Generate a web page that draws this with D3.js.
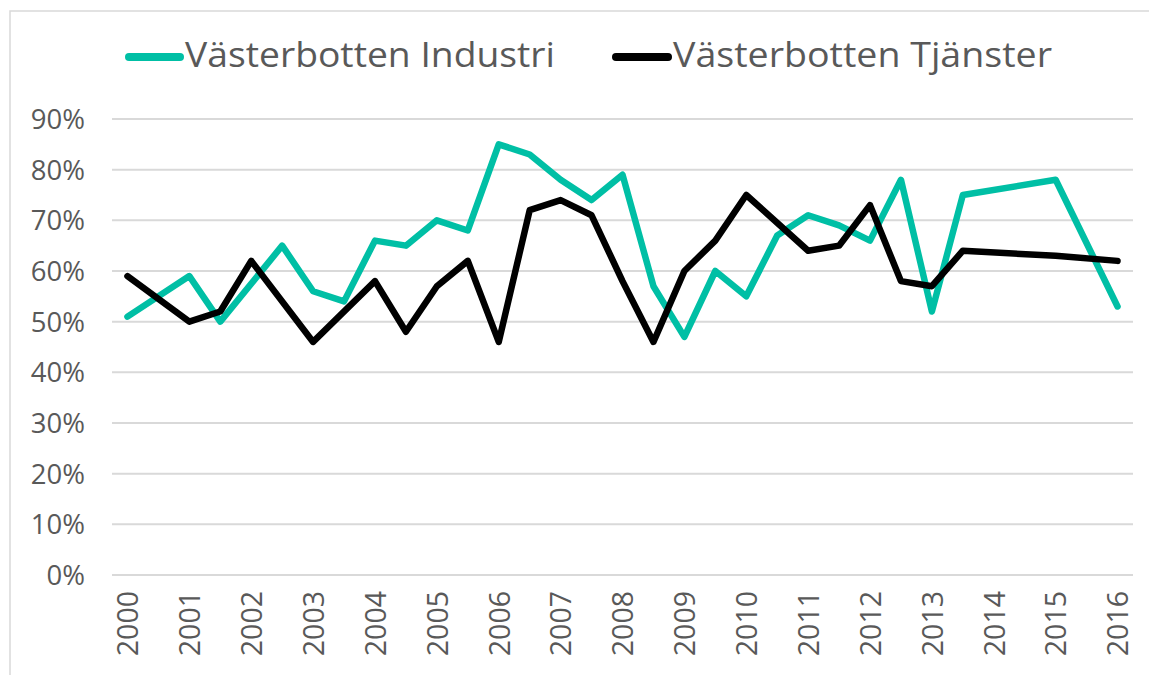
<!DOCTYPE html>
<html>
<head>
<meta charset="utf-8">
<script src="https://cdn.jsdelivr.net/npm/d3@7"></script>
<style>
  html, body { margin: 0; padding: 0; background: #fff; }
  svg { display: block; }
  text { font-family: "Open Sans", "Noto Sans", sans-serif; fill: #595959; }
</style>
</head>
<body>
<svg id="chart" width="1149" height="675"></svg>
<script>
// Half-year periods (category axis); only whole years carry labels
const periods = ["2000","2000.5","2001","2001.5","2002","2002.5","2003","2003.5","2004","2004.5",
  "2005","2005.5","2006","2006.5","2007","2007.5","2008","2008.5","2009","2009.5",
  "2010","2010.5","2011","2011.5","2012","2012.5","2013","2013.5","2014","2014.5",
  "2015","2015.5","2016"];
const yearLabels = ["2000","2001","2002","2003","2004","2005","2006","2007","2008",
  "2009","2010","2011","2012","2013","2014","2015","2016"];
const seriesNames = ["Västerbotten Industri", "Västerbotten Tjänster"];
const industri = [0.51,null,0.59,0.50,null,0.65,0.56,0.54,0.66,0.65,
  0.70,0.68,0.85,0.83,0.78,0.74,0.79,0.57,0.47,0.60,
  0.55,0.67,0.71,0.69,0.66,0.78,0.52,0.75,null,null,
  0.78,null,0.53];
const tjanster = [0.59,null,0.50,0.52,0.62,null,0.46,null,0.58,0.48,
  0.57,0.62,0.46,0.72,0.74,0.71,0.58,0.46,0.60,0.66,
  0.75,null,0.64,0.65,0.73,0.58,0.57,0.64,null,null,
  0.63,null,0.62];
const yTicks = [0,0.1,0.2,0.3,0.4,0.5,0.6,0.7,0.8,0.9];
const colors = ["#00bfa5", "#000000"];

const svg = d3.select("#chart");

// outer frame
svg.append("rect").attr("x", 10).attr("y", 11).attr("width", 1160).attr("height", 700)
  .attr("fill", "none").attr("stroke", "#d9d9d9").attr("stroke-width", 1.5);

const plotLeft = 112, plotRight = 1133, plotTop = 119, plotBottom = 575;
const x = d3.scalePoint().domain(periods).range([plotLeft, plotRight]).padding(0.5);
const y = d3.scaleLinear().domain([0, 0.9]).range([plotBottom, plotTop]);

// gridlines
svg.append("g").selectAll("line").data(yTicks).join("line")
  .attr("x1", plotLeft).attr("x2", plotRight)
  .attr("y1", d => y(d)).attr("y2", d => y(d))
  .attr("stroke", "#d9d9d9").attr("stroke-width", 2);

// y axis
const yAxis = d3.axisLeft(y).tickValues(yTicks).tickFormat(d3.format(".0%")).tickSize(0).tickPadding(0);
const gy = svg.append("g").attr("transform", `translate(85,0)`).call(yAxis);
gy.select(".domain").remove();
gy.selectAll("text").style("font-size", "27.5px").attr("fill", "#595959").attr("dy", "0.35em");

// x axis
const xAxis = d3.axisBottom(x).tickValues(yearLabels).tickSize(0).tickPadding(0);
const gx = svg.append("g").attr("transform", `translate(0,${plotBottom})`).call(xAxis);
gx.select(".domain").remove();
gx.selectAll("text")
  .style("font-size", "28.5px").attr("fill", "#595959")
  .attr("text-anchor", "end")
  .attr("transform", "rotate(-90)")
  .attr("x", -16).attr("y", 0).attr("dy", "0.36em");

// lines
const line = d3.line().x(d => x(d.p)).y(d => y(d.v));
[industri, tjanster].forEach((vals, i) => {
  const pts = periods.map((p, j) => ({p, v: vals[j]})).filter(d => d.v != null);
  svg.append("path").datum(pts).attr("d", line)
    .attr("fill", "none").attr("stroke", colors[i]).attr("stroke-width", 6.5)
    .attr("stroke-linejoin", "round").attr("stroke-linecap", "round");
});

// legend
const legendItems = [
  {x1: 129, x2: 180, tx: 185, w: 370},
  {x1: 616, x2: 668, tx: 673, w: 379}
];
legendItems.forEach((L, i) => {
  svg.append("line").attr("x1", L.x1).attr("x2", L.x2).attr("y1", 57).attr("y2", 57)
    .attr("stroke", colors[i]).attr("stroke-width", 8).attr("stroke-linecap", "round");
  svg.append("text").attr("x", L.tx).attr("y", 67)
    .style("font-size", "35px")
    .attr("textLength", L.w).attr("lengthAdjust", "spacingAndGlyphs")
    .text(seriesNames[i]);
});
</script>
</body>
</html>
